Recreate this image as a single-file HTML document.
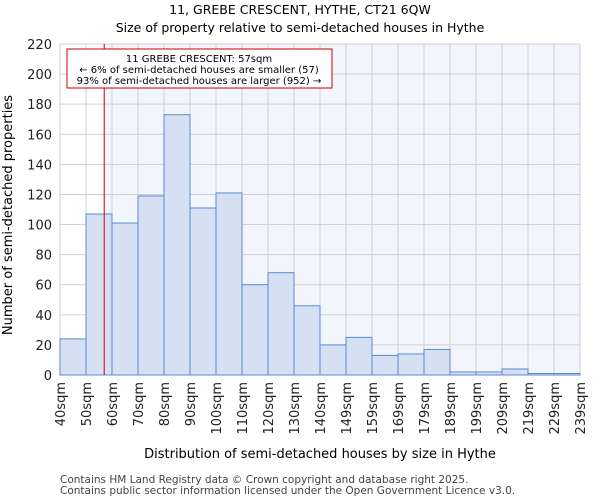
<!DOCTYPE html>
<html><head><meta charset="utf-8"><style>
body{margin:0;background:#fff;font-family:"DejaVu Sans","Liberation Sans",sans-serif;}
</style></head><body>
<svg width="600" height="500" xmlns="http://www.w3.org/2000/svg" font-family="DejaVu Sans, Liberation Sans, sans-serif">
<g id="plot"></g>
<script>
const categories=["40sqm","50sqm","60sqm","70sqm","80sqm","90sqm","100sqm","110sqm","120sqm","130sqm","140sqm","149sqm","159sqm","169sqm","179sqm","189sqm","199sqm","209sqm","219sqm","229sqm","239sqm"];
const values=[24,107,101,119,173,111,121,60,68,46,20,25,13,14,17,2,2,4,1,1];
const yTicks=[0,20,40,60,80,100,120,140,160,180,200,220];
const marker=57;
const x0=60,x1=580,y0=375,y1=44,ymax=220;
const bw=(x1-x0)/values.length;
const X=i=>x0+i*bw;
const Y=v=>y0-(v/ymax)*(y0-y1);
const XS=s=>{const i=Math.floor((s-40)/10);return X(i)+((s-40)/10-i)*bw;};
const ns="http://www.w3.org/2000/svg";
const svg=document.querySelector("svg");
function mk(t,a,p){const e=document.createElementNS(ns,t);for(const k in a)e.setAttribute(k,a[k]);(p||svg).appendChild(e);return e;}
const mx=XS(marker);
let e;
e=mk("rect",{x:x0,y:y1,width:x1-x0,height:y0-y1,fill:"#fff"});


e=mk("rect",{x:mx,y:y1,width:x1-mx,height:y0-y1,fill:"#f2f5fc"});


for(let i=0;i<=values.length;i++){e=mk("line",{x1:X(i),x2:X(i),y1:y1,y2:y0,stroke:"#d0d0d0"});

}
yTicks.forEach(t=>{e=mk("line",{x1:x0,x2:x1,y1:Y(t),y2:Y(t),stroke:"#d0d0d0"});


const tx=mk("text",{x:x0-8,y:Y(t)+5,"text-anchor":"end","font-size":"13",fill:"#222"});tx.textContent=t;

});
values.forEach((v,i)=>{const r=mk("rect",{x:X(i),y:Y(v),width:bw,height:y0-Y(v),fill:"#d6e0f3",stroke:"#5b8ad4","stroke-width":1});

});
categories.forEach((c,i)=>{const t=mk("text",{transform:`translate(${X(i)+5},382) rotate(-90)`,"text-anchor":"end","font-size":"13",fill:"#222"});t.textContent=c;

});
e=mk("line",{x1:mx,x2:mx,y1:y1,y2:y0,stroke:"#cc0000","stroke-width":1});


e=mk("rect",{x:67,y:49,width:265,height:39,fill:"#fff",stroke:"#cc0000","stroke-width":1});


["11 GREBE CRESCENT: 57sqm","← 6% of semi-detached houses are smaller (57)","93% of semi-detached houses are larger (952) →"].forEach((s,i)=>{const t=mk("text",{x:199,y:62+i*11,"text-anchor":"middle","font-size":"10",fill:"#000"});t.textContent=s;

});
</script>
<text x="300" y="14" text-anchor="middle" font-size="12.5">11, GREBE CRESCENT, HYTHE, CT21 6QW</text>
<text x="300" y="32" text-anchor="middle" font-size="12.5">Size of property relative to semi-detached houses in Hythe</text>
<text transform="translate(12,215) rotate(-90)" text-anchor="middle" font-size="13">Number of semi-detached properties</text>
<text x="320" y="458" text-anchor="middle" font-size="13">Distribution of semi-detached houses by size in Hythe</text>
<text x="60" y="483" font-size="10.5" fill="#444">Contains HM Land Registry data © Crown copyright and database right 2025.</text>
<text x="60" y="494" font-size="10.5" fill="#444">Contains public sector information licensed under the Open Government Licence v3.0.</text>
</svg>
</body></html>
